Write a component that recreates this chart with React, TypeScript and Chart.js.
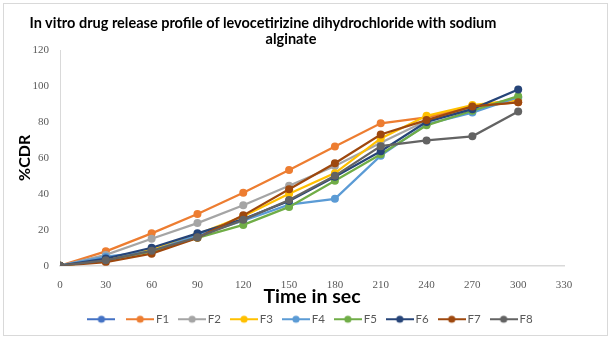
import React, { useEffect, useRef } from 'react';
import { Chart, registerables } from 'chart.js';

Chart.register(...registerables);

const times = [0, 30, 60, 90, 120, 150, 180, 210, 240, 270, 300];
const seriesNames = ['', 'F1', 'F2', 'F3', 'F4', 'F5', 'F6', 'F7', 'F8'];
const seriesColors = ['#4472C4', '#ED7D31', '#A5A5A5', '#FFC000', '#5B9BD5', '#70AD47', '#264478', '#9E480E', '#636363'];

const blank: number[] = [];
const F1 = [0, 8, 18, 28.8, 40.6, 53.3, 66.3, 79.2, 82.5, 88.5, 91];
const F2 = [0, 6, 15, 23.7, 33.6, 44.5, 55.5, 68.4, 80.6, 88, 93.3];
const F3 = [0, 3, 9, 17.5, 27.5, 40, 51.5, 70.8, 83.4, 89.4, 92.2];
const F4 = [0, 5, 8, 17, 25, 34, 37.2, 61.2, 78.7, 85.2, 93.7];
const F5 = [0, 3, 8, 15.5, 22.7, 32.7, 47.3, 62, 78.1, 86.2, 94.3];
const F6 = [0, 4, 10, 18, 26, 36, 49.5, 63.7, 80, 87.1, 98];
const F7 = [0, 2, 6.7, 15.5, 28, 42.5, 57, 73, 81, 88.6, 90.9];
const F8 = [0, 3, 8.3, 15.8, 25.5, 36.5, 50, 66.5, 69.7, 72, 85.8];
const seriesValues = [blank, F1, F2, F3, F4, F5, F6, F7, F8];

const xMin = 0;
const xMax = 330;
const xStep = 30;
const yMin = 0;
const yMax = 120;
const yStep = 20;

const titleLine1 = 'In vitro drug release profile of levocetirizine dihydrochloride with sodium';
const titleLine2 = 'alginate';
const xTitle = 'Time in sec';
const yTitle = '%CDR';

function legendIcon(color: string): HTMLCanvasElement {
  const c = document.createElement('canvas');
  c.width = 28;
  c.height = 10;
  const ctx = c.getContext('2d')!;
  ctx.strokeStyle = color;
  ctx.lineWidth = 2;
  ctx.beginPath();
  ctx.moveTo(0, 5);
  ctx.lineTo(28, 5);
  ctx.stroke();
  ctx.fillStyle = color;
  ctx.beginPath();
  ctx.arc(14, 5, 3.6, 0, Math.PI * 2);
  ctx.fill();
  return c;
}

export default function App() {
  const ref = useRef<HTMLCanvasElement | null>(null);

  useEffect(() => {
    if (!ref.current) return;
    const datasets = seriesNames.map((name, i) => ({
      label: name,
      data: seriesValues[i].map((v, j) => ({ x: times[j], y: v })),
      borderColor: seriesColors[i],
      backgroundColor: seriesColors[i],
      pointBackgroundColor: seriesColors[i],
      pointBorderColor: seriesColors[i],
      pointRadius: 4,
      pointBorderWidth: 0,
      borderWidth: 2.25,
      tension: 0,
      order: 10 - i,
    }));
    const icons = seriesColors.map((c) => legendIcon(c));

    const chart = new Chart(ref.current, {
      type: 'line',
      data: { datasets },
      options: {
        animation: false,
        responsive: false,
        devicePixelRatio: 1,
        layout: { padding: { top: 50, left: 8, right: 49, bottom: 4 } },
        plugins: {
          tooltip: { enabled: false },
          title: { display: false },
          legend: {
            position: 'bottom',
            fullSize: false,
            labels: {
              usePointStyle: true,
              pointStyleWidth: 20,
              padding: 13,
              color: '#595959',
              font: { family: 'Lato, "Open Sans", sans-serif', size: 11.5 },
              generateLabels: (ch: any) =>
                ch.data.datasets.map((ds: any, i: number) => ({
                  text: ds.label,
                  fillStyle: seriesColors[i],
                  strokeStyle: seriesColors[i],
                  fontColor: '#595959',
                  lineWidth: 0,
                  pointStyle: icons[i],
                  hidden: false,
                  datasetIndex: i,
                })),
            },
          },
        },
        scales: {
          x: {
            type: 'linear',
            min: xMin,
            max: xMax,
            afterFit: (s: any) => {
              s.height = 34.8;
            },
            grid: { display: false, drawTicks: false },
            border: { display: true, color: '#d9d9d9', width: 1.5 },
            ticks: {
              stepSize: xStep,
              padding: 13,
              color: '#595959',
              font: { family: '"Liberation Serif", serif', size: 11 },
            },
            title: {
              display: true,
              text: xTitle,
              color: '#000',
              font: { family: 'Lato, sans-serif', size: 19.5, weight: 'bold', lineHeight: 1 },
              padding: { top: 0, bottom: -6 },
            },
          },
          y: {
            min: yMin,
            max: yMax,
            afterFit: (s: any) => {
              s.width = 52;
            },
            grid: { display: false, drawTicks: false },
            border: { display: true, color: '#d9d9d9', width: 1 },
            ticks: {
              stepSize: yStep,
              padding: 11,
              color: '#595959',
              font: { family: '"Liberation Serif", serif', size: 11 },
            },
            title: {
              display: true,
              text: yTitle,
              color: '#000',
              font: { family: 'Lato, sans-serif', size: 16, weight: 'bold', lineHeight: 1.2 },
              padding: { top: 7, bottom: 0 },
            },
          },
        },
      },
    } as any);
    return () => chart.destroy();
  }, []);

  const titleStyle: React.CSSProperties = {
    position: 'absolute',
    width: 600,
    textAlign: 'center',
    fontFamily: 'Lato, "Open Sans", sans-serif',
    fontWeight: 'bold',
    fontSize: 14.5,
    lineHeight: '15px',
    color: '#000',
    whiteSpace: 'nowrap',
  };

  return (
    <div style={{ position: 'fixed', left: 0, top: 0, width: 613, height: 339, background: '#fff', overflow: 'hidden' }}>
      <canvas ref={ref} width={613} height={339} style={{ position: 'absolute', left: 0, top: 0, width: 613, height: 339 }} />
      <div
        style={{
          position: 'absolute',
          left: 3,
          top: 3,
          width: 605,
          height: 333,
          border: '1px solid #d9d9d9',
          boxSizing: 'border-box',
          pointerEvents: 'none',
        }}
      />
      <div style={{ ...titleStyle, left: 263 - 300, top: 15 }}>{titleLine1}</div>
      <div style={{ ...titleStyle, left: 291 - 300, top: 31 }}>{titleLine2}</div>
    </div>
  );
}
